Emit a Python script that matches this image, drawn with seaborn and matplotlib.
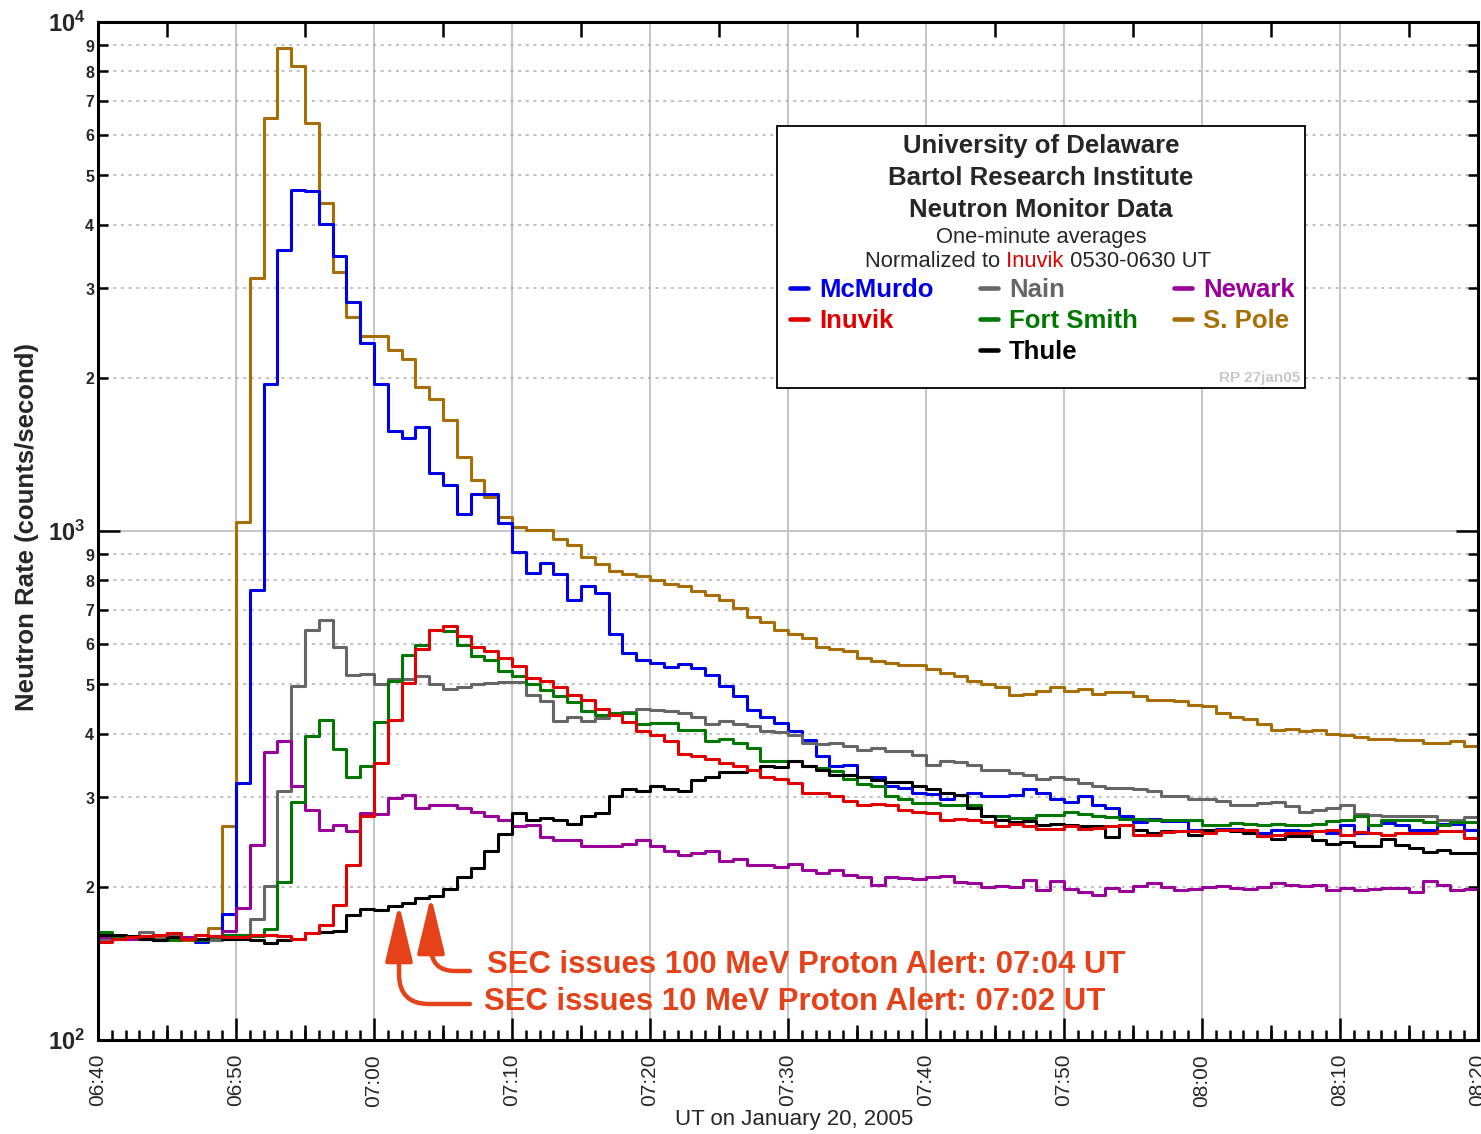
import numpy as np
import pandas as pd
import matplotlib
matplotlib.use("Agg")
import matplotlib.pyplot as plt
import seaborn as sns
from matplotlib.ticker import FixedLocator, FuncFormatter, LogLocator, MultipleLocator, NullLocator
from matplotlib.patches import Rectangle
from matplotlib.lines import Line2D
from matplotlib.text import Annotation

# ---------------- data (one-minute averages, counts/second) ----------------
time_labels = ["06:40", "06:50", "07:00", "07:10", "07:20", "07:30",
               "07:40", "07:50", "08:00", "08:10", "08:20"]

mcmurdo = [158, 159, 158, 160, 157, 159, 158, 156, 160, 177,
           320, 765, 1944, 3557, 4670, 4650, 4016, 3477, 2814, 2337,
           1944, 1573, 1522, 1602, 1302, 1232, 1082, 1181, 1180, 1038,
           909, 828, 864, 824, 731, 779, 756, 628, 576, 557,
           550, 540, 547, 539, 522, 497, 475, 444, 431, 420,
           404, 389, 362, 345, 347, 328, 328, 316, 313, 306,
           304, 298, 303, 305, 301, 301, 303, 311, 305, 297,
           293, 301, 289, 286, 275, 268, 272, 269, 269, 258,
           257, 260, 260, 258, 255, 259, 258, 257, 257, 255,
           264, 255, 264, 267, 264, 258, 259, 266, 266, 258]

inuvik = [156, 158, 159, 160, 161, 162, 158, 161, 160, 159,
          159, 161, 161, 160, 158, 162, 168, 184, 221, 275,
          350, 426, 503, 587, 640, 650, 621, 592, 582, 562,
          544, 515, 508, 494, 476, 466, 447, 436, 422, 404,
          397, 387, 365, 361, 356, 350, 346, 339, 329, 326,
          320, 305, 306, 301, 295, 289, 291, 289, 283, 280,
          279, 270, 272, 270, 268, 263, 266, 263, 260, 260,
          263, 260, 261, 263, 264, 253, 253, 256, 257, 257,
          255, 258, 258, 258, 252, 253, 255, 255, 257, 258,
          253, 256, 255, 253, 255, 255, 255, 257, 257, 249]

nain = [158, 158, 159, 163, 158, 160, 159, 158, 157, 158,
        160, 173, 201, 309, 495, 640, 668, 591, 521, 523,
        500, 512, 513, 518, 500, 490, 493, 500, 503, 505,
        505, 477, 463, 424, 432, 423, 429, 439, 441, 447,
        444, 442, 438, 432, 418, 423, 418, 414, 404, 403,
        397, 384, 381, 384, 378, 372, 374, 370, 370, 363,
        347, 354, 352, 347, 339, 339, 334, 331, 326, 329,
        326, 320, 316, 313, 313, 311, 309, 302, 302, 298,
        298, 295, 290, 290, 292, 293, 288, 280, 283, 285,
        290, 278, 277, 275, 276, 276, 275, 271, 271, 274]

fort_smith = [163, 159, 160, 158, 157, 157, 158, 157, 159, 161,
              161, 160, 165, 204, 294, 395, 425, 373, 328, 346,
              421, 508, 570, 598, 640, 635, 598, 567, 557, 531,
              518, 500, 488, 475, 461, 443, 436, 439, 439, 418,
              420, 420, 407, 407, 387, 390, 384, 374, 353, 353,
              353, 345, 342, 338, 326, 318, 315, 302, 298, 292,
              292, 289, 290, 290, 275, 276, 273, 273, 277, 277,
              281, 278, 276, 274, 272, 272, 270, 270, 270, 271,
              265, 265, 267, 266, 264, 266, 265, 265, 266, 269,
              271, 275, 264, 270, 270, 270, 268, 264, 268, 268]

thule = [161, 161, 160, 158, 157, 159, 158, 158, 160, 158,
         158, 157, 155, 157, 158, 162, 163, 164, 176, 181,
         180, 183, 186, 190, 192, 198, 209, 218, 235, 254,
         279, 271, 273, 270, 266, 276, 279, 302, 311, 309,
         315, 311, 309, 324, 329, 336, 336, 339, 345, 344,
         354, 345, 339, 331, 331, 328, 324, 322, 321, 315,
         311, 306, 303, 285, 275, 270, 268, 269, 264, 266,
         265, 263, 263, 251, 264, 259, 255, 257, 257, 253,
         258, 258, 257, 255, 252, 248, 252, 252, 247, 243,
         245, 241, 241, 248, 242, 238, 234, 236, 233, 233]

newark = [159, 160, 158, 158, 161, 162, 159, 158, 160, 164,
          182, 242, 368, 386, 316, 283, 258, 265, 257, 279,
          278, 299, 303, 286, 290, 290, 286, 280, 275, 270,
          263, 264, 250, 247, 247, 240, 240, 240, 243, 247,
          240, 235, 231, 233, 235, 225, 227, 221, 221, 219,
          222, 216, 213, 216, 211, 209, 202, 209, 208, 207,
          209, 210, 204, 203, 200, 201, 200, 206, 197, 205,
          198, 195, 193, 199, 196, 201, 203, 200, 197, 198,
          200, 201, 199, 198, 200, 203, 202, 201, 202, 197,
          199, 197, 198, 199, 199, 195, 205, 202, 197, 198]

south_pole = [158, 158, 159, 158, 160, 159, 157, 158, 166, 263,
              1040, 3140, 6480, 8900, 8200, 6320, 4400, 3225, 2630, 2420,
              2420, 2268, 2178, 1920, 1817, 1652, 1398, 1258, 1167, 1067,
              1018, 1003, 1003, 963, 937, 889, 862, 834, 824, 815,
              800, 786, 779, 762, 748, 731, 707, 678, 664, 638,
              628, 615, 593, 587, 580, 564, 555, 550, 546, 546,
              535, 527, 519, 508, 500, 494, 476, 479, 485, 494,
              485, 490, 479, 483, 483, 475, 466, 466, 463, 456,
              453, 438, 431, 427, 418, 407, 409, 404, 407, 400,
              397, 394, 390, 390, 388, 388, 384, 384, 387, 378]

station_names = ["McMurdo", "Inuvik", "Nain", "Fort Smith", "Thule", "Newark", "S. Pole"]
station_values = [mcmurdo, inuvik, nain, fort_smith, thule, newark, south_pole]

colors = {"McMurdo": "#0000E6", "Inuvik": "#E00000", "Nain": "#666666",
          "Fort Smith": "#007800", "Thule": "#000000", "Newark": "#990099",
          "S. Pole": "#A86E06"}
draw_order = ["S. Pole", "McMurdo", "Nain", "Newark", "Fort Smith", "Thule", "Inuvik"]

# long table; the last minute is held to the right edge (steps-post)
rows = []
for name, vals in zip(station_names, station_values):
    ext = list(vals) + [vals[-1]]
    for m, v in enumerate(ext):
        rows.append((name, m, v))
df = pd.DataFrame(rows, columns=["station", "minute", "rate"])

# ---------------- style ----------------
sns.set_theme(style="ticks")
plt.rcParams["font.family"] = ["Liberation Sans", "DejaVu Sans"]
plt.rcParams["mathtext.fontset"] = "custom"
plt.rcParams["mathtext.bf"] = "Liberation Sans:bold"
plt.rcParams["mathtext.rm"] = "Liberation Sans"
plt.rcParams["mathtext.it"] = "Liberation Sans:italic"

W, H = 1481, 1134
fig = plt.figure(figsize=(W / 100, H / 100), dpi=100)
fig.patch.set_facecolor("white")
ax = fig.add_axes([98 / W, 1 - 1040 / H, 1380 / W, 1018 / H])
ax.set_yscale("log")

sns.lineplot(data=df, x="minute", y="rate", hue="station", hue_order=draw_order,
             palette=colors, drawstyle="steps-post", linewidth=2.2,
             estimator=None, errorbar=None, legend=False, ax=ax)

ax.set_xlim(0, 100)
ax.set_ylim(100, 10000)
ax.set_xlabel("")
ax.set_ylabel("")

# x ticks
ax.set_xticks(np.arange(0, 101, 10), labels=time_labels)
ax.xaxis.set_minor_locator(MultipleLocator(1))
for lab in ax.get_xticklabels():
    lab.set_rotation(90)
ax.tick_params(axis="x", which="major", direction="in", top=True, bottom=True,
               length=15.5, width=1.8, pad=10, labelsize=15, color="black")
ax.tick_params(axis="x", which="minor", direction="in", top=True, bottom=True,
               length=7.5, width=1.8, color="black")

# y ticks
ax.yaxis.set_major_locator(LogLocator(base=10, numticks=10))
ax.yaxis.set_minor_locator(LogLocator(base=10, subs=np.arange(2, 10), numticks=20))
ax.yaxis.set_major_formatter(FuncFormatter(
    lambda v, p: r"$\mathbf{10^{%d}}$" % int(round(np.log10(v)))))
ax.yaxis.set_minor_formatter(FuncFormatter(
    lambda v, p: r"$\mathbf{%d}$" % int(round(v / 10 ** np.floor(np.log10(v) + 1e-9)))))
ax.tick_params(axis="y", which="major", direction="in", left=True, right=True,
               length=15.5, width=1.8, pad=9, labelsize=17, color="black")
ax.tick_params(axis="y", which="minor", direction="in", left=True, right=True,
               length=7.5, width=1.8, pad=2, labelsize=11.5, color="black")

# grid
ax.grid(False)
ax.xaxis.grid(True, which="major", color="#c6c6c6", lw=1.5, ls="-")
ax.yaxis.grid(True, which="major", color="#c6c6c6", lw=1.5, ls="-")
ax.yaxis.grid(True, which="minor", color="#b0b0b0", lw=1.1, ls=(0, (2, 3)))
ax.set_axisbelow(True)
for s in ax.spines.values():
    s.set_linewidth(2.2)
    s.set_color("black")
    s.set_visible(True)

# 5-minute medium ticks
ax2 = ax.twiny()
ax2.set_xlim(0, 100)
ax2.set_xticks(np.arange(5, 100, 10))
ax2.xaxis.set_minor_locator(NullLocator())
ax2.tick_params(axis="x", which="major", direction="in", top=True, bottom=True,
                labeltop=False, labelbottom=False, length=11, width=1.8, color="black")
ax2.grid(False)
for s in ax2.spines.values():
    s.set_visible(False)

# axis titles
fig.text(27 / W, 1 - 527 / H, "Neutron Rate (counts/second)", rotation=90,
         ha="center", va="center", fontsize=18.5, fontweight="bold")
fig.text(794 / W, 1 - 1120 / H, "UT on January 20, 2005", ha="center",
         va="center", fontsize=16)

# ---------------- legend box ----------------
fig.add_artist(Rectangle((777 / W, 1 - 388 / H), (1305 - 777) / W, (388 - 126) / H,
                         transform=fig.transFigure, facecolor="white",
                         edgecolor="black", lw=1.3, zorder=2))
cx = 1041 / W
for txt, base in [("University of Delaware", 153), ("Bartol Research Institute", 185),
                  ("Neutron Monitor Data", 217)]:
    fig.text(cx, 1 - base / H, txt, ha="center", va="baseline", fontsize=18.5,
             fontweight="bold", zorder=3)
fig.text(cx, 1 - 243 / H, "One-minute averages", ha="center", va="baseline",
         fontsize=15.8, zorder=3)
t1 = fig.text(865 / W, 1 - 267 / H, "Normalized to", ha="left", va="baseline",
              fontsize=15.8, zorder=3)
a1 = Annotation(" Inuvik", xy=(1, 0), xycoords=t1, ha="left", va="bottom",
                fontsize=15.8, color=colors["Inuvik"], zorder=3)
fig.add_artist(a1)
a2 = Annotation(" 0530-0630 UT", xy=(1, 0), xycoords=a1, ha="left", va="bottom",
                fontsize=15.8, zorder=3)
fig.add_artist(a2)

legend_layout = [("McMurdo", 790, 288), ("Inuvik", 790, 319),
                 ("Nain", 980, 288), ("Fort Smith", 980, 319), ("Thule", 980, 350),
                 ("Newark", 1174, 288), ("S. Pole", 1174, 319)]
for name, x0, yc in legend_layout:
    fig.add_artist(Line2D([x0 / W, (x0 + 18) / W], [1 - yc / H, 1 - yc / H],
                          transform=fig.transFigure, color=colors[name], lw=3.3,
                          solid_capstyle="round", zorder=3))
    fig.text((x0 + 29) / W, 1 - (yc + 9) / H, name, ha="left", va="baseline",
             fontsize=18.5, fontweight="bold", color=colors[name], zorder=3)
fig.text(1300 / W, 1 - 382 / H, "RP 27jan05", ha="right", va="baseline",
         fontsize=11, fontweight="bold", color="#c8c8c8", zorder=3)

# ---------------- SEC alert annotations ----------------
ann_color = "#E5421A"
ax.annotate("", xy=(431, H - 896), xycoords="figure pixels",
            xytext=(470, H - 971), textcoords="figure pixels",
            arrowprops=dict(arrowstyle="-|>,head_length=1.75,head_width=0.42",
                            connectionstyle="angle,angleA=0,angleB=90,rad=24",
                            color=ann_color, lw=3.2, shrinkA=0, shrinkB=0,
                            mutation_scale=20))
ax.annotate("", xy=(399, H - 904), xycoords="figure pixels",
            xytext=(470, H - 1004), textcoords="figure pixels",
            arrowprops=dict(arrowstyle="-|>,head_length=1.75,head_width=0.42",
                            connectionstyle="angle,angleA=0,angleB=90,rad=30",
                            color=ann_color, lw=3.2, shrinkA=0, shrinkB=0,
                            mutation_scale=20))
fig.text(487 / W, 1 - 973 / H, "SEC issues 100 MeV Proton Alert: 07:04 UT",
         ha="left", va="baseline", fontsize=22.4, fontweight="bold", color=ann_color)
fig.text(484 / W, 1 - 1010 / H, "SEC issues 10 MeV Proton Alert: 07:02 UT",
         ha="left", va="baseline", fontsize=22.4, fontweight="bold", color=ann_color)

fig.savefig("out.png", dpi=100)
